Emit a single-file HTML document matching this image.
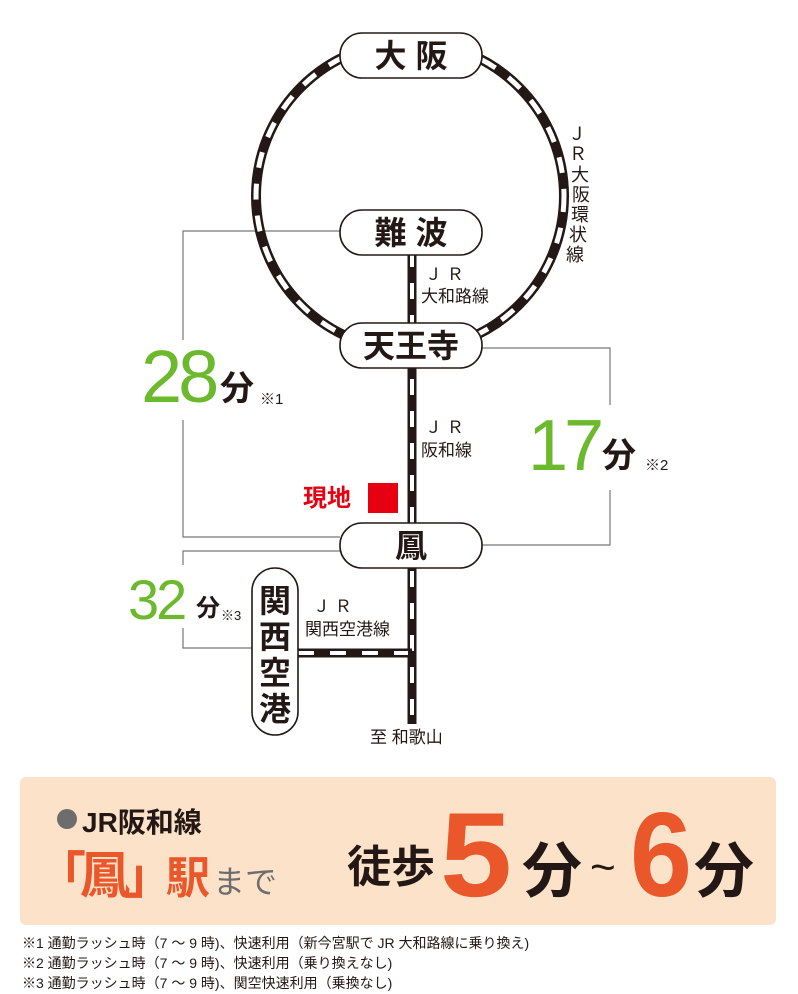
<!DOCTYPE html>
<html><head><meta charset="utf-8"><style>
html,body{margin:0;padding:0;background:#fff;}
body{width:798px;height:994px;overflow:hidden;position:relative;font-family:"Liberation Sans","Noto Sans CJK JP",sans-serif;}
</style></head><body>
<svg width="798" height="994" viewBox="0 0 798 994" xmlns="http://www.w3.org/2000/svg" style="position:absolute;left:0;top:0;font-family:'Liberation Sans','Noto Sans CJK JP',sans-serif">
<g stroke="#777" stroke-width="1.2" fill="none">
<polyline points="340,231 183,231 183,340"/>
<polyline points="183,420 183,537 340,537"/>
<polyline points="482,348 610,348 610,405"/>
<polyline points="610,490 610,545 482,545"/>
<polyline points="340,551 183,551 183,565"/>
<polyline points="183,628 183,648 252,648"/>
</g>
<circle cx="410" cy="196" r="154" fill="none" stroke="#231815" stroke-width="10"/>
<circle cx="410" cy="196" r="154" fill="none" stroke="#fff" stroke-width="5" stroke-dasharray="16 16"/>
<line x1="412" y1="255" x2="412" y2="724" stroke="#231815" stroke-width="9"/>
<line x1="412" y1="255" x2="412" y2="724" stroke="#fff" stroke-width="4" stroke-dasharray="16 16" stroke-dashoffset="4"/>
<line x1="298" y1="653" x2="412" y2="653" stroke="#231815" stroke-width="9"/>
<line x1="298" y1="653" x2="408" y2="653" stroke="#fff" stroke-width="4" stroke-dasharray="16 16"/>
<g fill="#fff" stroke="#231815" stroke-width="1.6">
<rect x="340" y="33" width="142" height="45" rx="22"/>
<rect x="340" y="210" width="142" height="45" rx="22"/>
<rect x="340" y="323" width="142" height="45" rx="22"/>
<rect x="340" y="523" width="142" height="45" rx="22"/>
<rect x="252" y="568" width="46" height="167" rx="23"/>
</g>
<g fill="#231815" font-weight="bold" font-size="32" text-anchor="middle">
<text x="411" y="67">大 阪</text>
<text x="411" y="244">難 波</text>
<text x="411" y="357">天王寺</text>
<text x="411" y="557">鳳</text>
<text x="275" y="612">関</text>
<text x="275" y="648">西</text>
<text x="275" y="684">空</text>
<text x="275" y="720">港</text>
</g>
<g fill="#231815" font-size="17">
<text x="425" y="280">Ｊ Ｒ</text>
<text x="421" y="302">大和路線</text>
<text x="425" y="433">Ｊ Ｒ</text>
<text x="421" y="456">阪和線</text>
<text x="313" y="612">Ｊ Ｒ</text>
<text x="305" y="635">関西空港線</text>
<text x="370" y="743">至 和歌山</text>
</g>
<g fill="#231815" font-size="18" text-anchor="middle">
<text x="577" y="140">Ｊ</text><text x="578" y="160">Ｒ</text>
<text x="580" y="181">大</text><text x="581" y="201">阪</text><text x="580" y="221">環</text><text x="578" y="241">状</text><text x="575" y="261">線</text>
</g>
<g fill="#6cb92d">
<text x="141" y="402" font-size="74" letter-spacing="-4">28</text>
<text x="528" y="470" font-size="72" letter-spacing="-4">17</text>
<text x="128" y="619" font-size="56" letter-spacing="-3">32</text>
</g>
<g fill="#231815" font-weight="bold">
<text x="220" y="400" font-size="34">分</text>
<text x="602" y="467" font-size="34">分</text>
<text x="196" y="616" font-size="24">分</text>
</g>
<g fill="#231815" font-size="15">
<text x="260" y="404">※1</text>
<text x="645" y="470">※2</text>
<text x="221" y="620" font-size="13">※3</text>
</g>
<text x="303" y="506" fill="#e60012" font-size="24" font-weight="bold">現地</text>
<rect x="368" y="483" width="30" height="30" fill="#e60012"/>
<rect x="20" y="777" width="756" height="148" rx="6" fill="#fbe2c8"/>
<circle cx="67" cy="819" r="10" fill="#6d6d6d"/>
<text x="82" y="832" font-size="28" font-weight="bold" fill="#231815">JR阪和線</text>
<text x="36" y="893" font-size="50" font-weight="bold" fill="#e9572a" letter-spacing="-6">「鳳」</text>
<text x="166" y="893" font-size="44" font-weight="bold" fill="#e9572a">駅</text>
<text x="213" y="893" font-size="32" fill="#6d6d6d">まで</text>
<text x="347" y="882" font-size="44" font-weight="bold" fill="#231815">徒歩</text>
<text x="440" y="896" font-size="120" font-weight="bold" fill="#e9572a" textLength="72" lengthAdjust="spacingAndGlyphs">5</text>
<text x="522" y="892" font-size="60" font-weight="bold" fill="#231815">分</text>
<text x="590" y="882" font-size="44" fill="#231815">~</text>
<text x="630" y="896" font-size="120" font-weight="bold" fill="#e9572a" textLength="62" lengthAdjust="spacingAndGlyphs">6</text>
<text x="694" y="892" font-size="60" font-weight="bold" fill="#231815">分</text>
<g fill="#231815" font-size="14">
<text x="22" y="948">※1 通勤ラッシュ時（7 ～ 9 時)、快速利用（新今宮駅で JR 大和路線に乗り換え)</text>
<text x="22" y="968">※2 通勤ラッシュ時（7 ～ 9 時)、快速利用（乗り換えなし)</text>
<text x="22" y="988">※3 通勤ラッシュ時（7 ～ 9 時)、関空快速利用（乗換なし)</text>
</g>
</svg>
</body></html>
